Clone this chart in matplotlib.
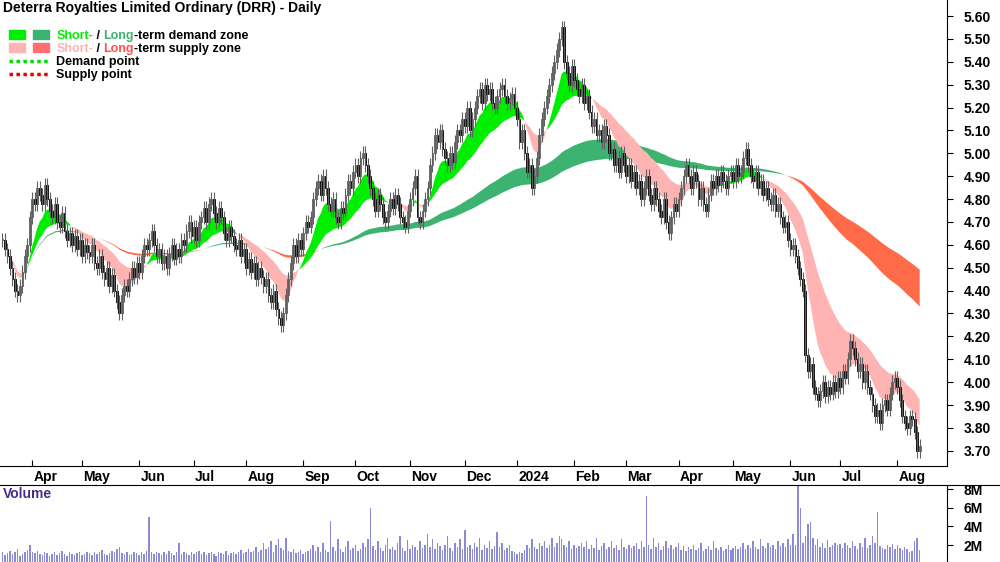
import numpy as np
import pandas as pd
import matplotlib
matplotlib.use("Agg")
import matplotlib.pyplot as plt
from matplotlib.patches import Patch
from matplotlib.lines import Line2D
from matplotlib.legend_handler import HandlerTuple

plt.rcParams['font.family'] = ['Liberation Sans', 'DejaVu Sans']

# daily closes, month by month (Mar 2023 .. Aug 2024)
closes = [
    4.62, 4.58, 4.55, 4.50, 4.45, 4.40, 4.38, 4.42, 4.48, 4.55, 4.60, 4.72, 4.80, 4.78, 4.85,
    4.82, 4.78, 4.86, 4.80, 4.75, 4.72, 4.78, 4.70, 4.68, 4.74, 4.66, 4.62, 4.65, 4.60, 4.64, 4.58, 4.62, 4.55, 4.60, 4.57,
    4.55, 4.60, 4.52, 4.50, 4.55, 4.48, 4.45, 4.50, 4.42, 4.47, 4.40, 4.35, 4.30, 4.38, 4.42, 4.40, 4.45, 4.50, 4.46, 4.52, 4.48, 4.55, 4.60,
    4.58, 4.62, 4.66, 4.60, 4.55, 4.58, 4.52, 4.55, 4.50, 4.56, 4.60, 4.54, 4.58, 4.55, 4.62, 4.60, 4.66, 4.70, 4.64, 4.68, 4.62, 4.70,
    4.72, 4.76, 4.70, 4.78, 4.80, 4.74, 4.70, 4.76, 4.72, 4.65, 4.62, 4.68, 4.64, 4.60, 4.58, 4.62, 4.55, 4.58, 4.50, 4.54, 4.48,
    4.52, 4.45, 4.50, 4.46, 4.42, 4.45, 4.38, 4.35, 4.40, 4.32, 4.28, 4.25, 4.30, 4.38, 4.45, 4.52, 4.60, 4.55, 4.62, 4.58, 4.65, 4.70, 4.68,
    4.72, 4.80, 4.85, 4.88, 4.82, 4.90, 4.85, 4.78, 4.75, 4.80, 4.72, 4.70, 4.76, 4.74, 4.82, 4.88, 4.85, 4.92, 4.95, 4.90, 4.98,
    5.00, 4.95, 4.90, 4.85, 4.80, 4.75, 4.82, 4.78, 4.72, 4.70, 4.75, 4.80, 4.76, 4.82, 4.78, 4.72, 4.70, 4.68, 4.75, 4.80, 4.85, 4.90,
    4.72, 4.70, 4.75, 4.80, 4.85, 4.95, 5.00, 5.08, 5.05, 5.10, 5.02, 4.98, 4.95, 5.00, 4.96, 5.05, 5.10, 5.08, 5.15, 5.12, 5.20, 5.10,
    5.15, 5.20, 5.25, 5.28, 5.22, 5.30, 5.26, 5.28, 5.22, 5.20, 5.25, 5.28, 5.30, 5.25, 5.22, 5.24, 5.26, 5.20, 5.15, 5.05, 5.10,
    5.00, 4.92, 4.95, 4.85, 4.90, 4.98, 5.08, 5.15, 5.20, 5.25, 5.30, 5.35, 5.40, 5.45, 5.50, 5.55, 5.40, 5.35, 5.30, 5.38, 5.32, 5.28, 5.25,
    5.30, 5.22, 5.25, 5.18, 5.12, 5.15, 5.08, 5.10, 5.05, 5.12, 5.08, 5.00, 5.02, 4.95, 4.98, 4.92, 5.00, 4.95, 4.90, 4.95, 4.88,
    4.92, 4.85, 4.88, 4.80, 4.85, 4.90, 4.82, 4.78, 4.85, 4.80, 4.75, 4.72, 4.80, 4.70, 4.65, 4.72, 4.78, 4.75, 4.80, 4.85, 4.90,
    4.95, 4.90, 4.85, 4.92, 4.88, 4.80, 4.85, 4.78, 4.75, 4.82, 4.88, 4.85, 4.90, 4.86, 4.92, 4.88, 4.85, 4.90, 4.92, 4.88, 4.95, 4.90,
    4.92, 4.98, 5.02, 4.95, 4.90, 4.88, 4.92, 4.85, 4.88, 4.82, 4.85, 4.80, 4.78, 4.82, 4.75, 4.78, 4.72, 4.68, 4.70, 4.62, 4.58, 4.60, 4.55,
    4.50, 4.45, 4.40, 4.12, 4.05, 4.08, 3.98, 3.95, 3.92, 3.96, 4.00, 3.94, 3.98, 3.95, 4.00, 3.96, 4.02, 3.98, 4.05, 4.02,
    4.10, 4.18, 4.15, 4.10, 4.05, 4.08, 4.00, 4.05, 3.98, 3.95, 3.90, 3.85, 3.88, 3.82, 3.90, 3.92, 3.88, 3.95, 4.00, 4.02, 3.98, 3.92, 3.85,
    3.82, 3.80, 3.85, 3.84, 3.78, 3.70, 3.72,
]

# daily volume in millions
volume = [
    1.2, 0.9, 1.1, 1.4, 1.0, 1.3, 1.6, 0.8, 1.0, 1.2, 1.5, 2.0, 1.3, 1.1, 1.4,
    1.0, 0.9, 1.2, 1.1, 0.8, 1.0, 1.3, 0.9, 1.1, 1.4, 1.0, 0.8, 1.2, 1.0, 0.9, 1.1, 1.3, 0.9, 1.0, 1.2,
    1.1, 0.9, 1.3, 1.0, 1.2, 1.5, 1.0, 0.9, 1.1, 1.4, 1.2, 1.6, 1.8, 1.1, 1.0, 1.2, 0.9, 1.0, 1.3, 1.1, 0.9, 1.2, 1.0,
    1.4, 5.0, 1.2, 1.0, 1.3, 1.1, 0.9, 1.2, 1.0, 1.4, 1.1, 0.9, 1.3, 2.2, 1.0, 1.2, 1.1, 0.9, 1.3, 1.0, 1.2, 1.4,
    1.0, 1.2, 0.9, 1.1, 1.3, 1.0, 0.8, 1.2, 1.1, 1.0, 1.4, 0.9, 1.1, 1.3, 1.0, 1.2, 1.5, 1.1, 1.3, 1.6, 1.2,
    1.4, 1.8, 1.2, 1.5, 2.2, 1.6, 1.8, 2.4, 1.3, 2.0, 2.6, 1.7, 1.5, 2.8, 1.4, 1.2, 1.6, 1.1, 1.3, 1.5, 1.0, 1.2, 1.4,
    1.6, 2.0, 1.4, 1.8, 1.2, 2.2, 1.5, 1.3, 4.6, 1.8, 1.4, 2.6, 1.6, 1.2, 1.8, 2.4, 1.5, 1.7, 2.0, 1.4, 1.6,
    2.2, 1.8, 2.6, 6.0, 1.9, 1.5, 2.4, 1.7, 1.4, 2.0, 2.8, 1.6, 1.8, 1.5, 2.2, 3.0, 1.7, 1.4, 2.5, 1.6, 2.0, 1.8,
    1.5, 2.4, 1.7, 2.0, 3.2, 1.8, 2.6, 1.6, 2.2, 1.9, 1.5, 2.0, 3.0, 1.7, 1.4, 2.2, 1.8, 2.6, 1.6, 3.6, 1.8, 2.0,
    1.6, 2.2, 1.8, 2.8, 1.5, 2.0, 1.7, 2.4, 1.6, 1.9, 3.4, 1.8, 2.2, 1.5, 1.7, 2.0, 1.4, 1.2, 1.0, 1.3, 1.1,
    1.5, 2.0, 1.7, 2.6, 1.8, 1.6, 2.2, 1.9, 2.4, 1.7, 2.0, 2.8, 1.8, 2.2, 3.0, 2.6, 2.0, 1.8, 2.4, 1.6, 2.0, 1.7, 1.9,
    2.2, 1.8, 2.4, 1.6, 2.0, 1.7, 2.8, 1.5, 1.9, 2.2, 1.6, 1.8, 2.4, 1.7, 2.0, 1.5, 2.6, 1.8, 1.6, 2.0, 1.7,
    1.9, 2.2, 1.6, 2.4, 1.8, 7.2, 2.0, 1.6, 2.8, 1.8, 2.2, 1.5, 1.9, 2.4, 1.7, 2.0, 1.6, 1.8, 2.2, 1.5, 1.9,
    1.4, 1.8, 1.6, 2.0, 1.5, 1.7, 2.2, 1.4, 1.6, 1.9, 1.5, 2.4, 1.7, 1.5, 1.8, 1.4, 1.6, 2.0, 1.5, 1.7, 1.9, 1.6,
    1.8, 2.2, 1.6, 2.0, 1.7, 2.4, 1.8, 1.6, 2.6, 1.9, 1.7, 2.2, 1.8, 2.0, 1.6, 2.4, 1.9, 2.2, 1.8, 2.6, 2.0, 3.2, 2.0,
    8.5, 6.0, 2.2, 3.0, 4.2, 4.5, 2.8, 2.0, 2.6, 1.8, 2.2, 1.7, 2.5, 1.8, 2.0, 2.2, 2.0, 2.1, 1.7, 2.2,
    2.0, 1.7, 2.4, 1.9, 1.6, 2.2, 1.8, 2.8, 1.7, 2.0, 3.0, 2.2, 5.5, 1.9, 1.7, 1.6, 2.0, 1.8, 2.1, 1.6, 2.0, 1.7, 1.5,
    1.8, 1.6, 1.3, 1.4, 2.4, 2.7, 1.5,
]

month_labels = ['Apr', 'May', 'Jun', 'Jul', 'Aug', 'Sep', 'Oct', 'Nov', 'Dec', '2024',
                'Feb', 'Mar', 'Apr', 'May', 'Jun', 'Jul', 'Aug']
price_ticks = [3.70, 3.80, 3.90, 4.00, 4.10, 4.20, 4.30, 4.40, 4.50, 4.60, 4.70,
               4.80, 4.90, 5.00, 5.10, 5.20, 5.30, 5.40, 5.50, 5.60]
vol_ticks = [2, 4, 6, 8]

n = min(len(closes), len(volume))
closes = np.array(closes[:n])
volume = np.array(volume[:n])
dates = pd.bdate_range('2023-03-16', periods=n)
idx = np.arange(n)
opens = np.r_[closes[0], closes[:-1]]

# zones from exponential averages
s = pd.Series(closes)
st_fast = s.ewm(span=10).mean().values
st_slow = s.ewm(span=30).mean().values
lt_fast = s.ewm(span=110).mean().values
lt_slow = s.ewm(span=180).mean().values

fig = plt.figure(figsize=(10, 5.62), dpi=100)
ax = fig.add_axes([0.0, 0.171, 0.947, 0.829])
axv = fig.add_axes([0.0, 0.0, 0.947, 0.137], sharex=ax)

C_ST_D, C_LT_D = '#00ee00', '#3cb371'
C_ST_S, C_LT_S = '#ffb3b3', '#ff6a48'

up = lt_fast >= lt_slow
ax.fill_between(idx, lt_fast, lt_slow, where=up, color=C_LT_D, lw=0, interpolate=True)
ax.fill_between(idx, lt_fast, lt_slow, where=~up, color=C_LT_S, lw=0, interpolate=True)
up = st_fast >= st_slow
ax.fill_between(idx, st_fast, st_slow, where=up, color=C_ST_D, lw=0, interpolate=True)
ax.fill_between(idx, st_fast, st_slow, where=~up, color=C_ST_S, lw=0, interpolate=True)

# candles
tops = np.maximum(opens, closes)
bots = np.minimum(opens, closes)
ax.vlines(idx, bots - 0.03, tops + 0.03, color='#606060', lw=0.8)
rising = closes >= opens
body = np.maximum(tops - bots, 0.004)
ax.bar(idx[rising], body[rising], bottom=bots[rising], width=0.7,
       color='white', edgecolor='#555555', lw=0.6)
ax.bar(idx[~rising], body[~rising], bottom=bots[~rising], width=0.7,
       color='black', edgecolor='black', lw=0.6)

ax.set_xlim(-1, 380)
ax.set_ylim(3.634, 5.670)
ax.yaxis.tick_right()
ax.set_yticks(price_ticks)
ax.set_yticklabels([f'{v:.2f}' for v in price_ticks], fontsize=10, fontweight='bold')
ax.tick_params(axis='y', direction='out', length=4, pad=8)

# month ticks
month_start = [i for i in range(1, n) if dates[i].month != dates[i - 1].month]
ax.set_xticks(month_start)
ax.tick_params(axis='x', direction='in', length=4, labelbottom=False)
for pos, lab in zip(month_start, month_labels):
    ax.text(pos + 0.5, -0.008, lab, transform=ax.get_xaxis_transform(),
            ha='left', va='top', fontsize=10, fontweight='bold')
for sp in ['top', 'left']:
    ax.spines[sp].set_visible(False)

ax.text(0.003, 0.998, 'Deterra Royalties Limited Ordinary (DRR) - Daily',
        transform=ax.transAxes, ha='left', va='top', fontsize=10, fontweight='bold')

handles = [
    (Patch(color=C_ST_D), Patch(color=C_LT_D)),
    (Patch(color=C_ST_S), Patch(color='#ff7070')),
    Line2D([], [], color='#00dd00', ls=(0, (1, 1)), lw=2.5),
    Line2D([], [], color='#ee0000', ls=(0, (1, 1)), lw=2.5),
]
leg = ax.legend(handles, ['Short- / Long-term demand zone', 'Short- / Long-term supply zone',
                          'Demand point', 'Supply point'],
                handler_map={tuple: HandlerTuple(ndivide=None, pad=0.6)},
                loc='upper left', bbox_to_anchor=(0.0, 0.955), frameon=False,
                prop={'weight': 'bold', 'size': 9}, handlelength=3.2,
                labelspacing=0.1, handletextpad=0.6, borderaxespad=0.3)
# coloured legend words
parts_list = [
    [('Short-', C_ST_D), (' / ', 'black'), ('Long', '#3cb371'), ('-term demand zone', 'black')],
    [('Short-', '#ffb3b3'), (' / ', 'black'), ('Long', '#ff5050'), ('-term supply zone', 'black')],
]
fig.canvas.draw()
r = fig.canvas.get_renderer()
for t, parts in zip(leg.get_texts()[:2], parts_list):
    bb = t.get_window_extent(r)
    t.set_text('')
    x0, y0 = bb.x0, bb.y0
    for word, col in parts:
        tt = fig.text(x0 / fig.bbox.width, y0 / fig.bbox.height, word, color=col,
                      fontsize=9, fontweight='bold', ha='left', va='bottom')
        x0 = tt.get_window_extent(r).x1

# volume
axv.bar(idx, volume, width=0.6, color='#8a8ad6')
axv.set_ylim(0.18, 8.43)
axv.yaxis.tick_right()
axv.set_yticks(vol_ticks)
axv.set_yticklabels([f'{v}M' for v in vol_ticks], fontsize=10, fontweight='bold')
axv.tick_params(axis='y', direction='out', length=4, pad=8)
axv.tick_params(axis='x', bottom=False, labelbottom=False)
for sp in ['left', 'bottom', 'top']:
    axv.spines[sp].set_visible(False)
fig.add_artist(Line2D([0, 1], [0.137, 0.137], color='black', lw=0.8))
axv.text(0.003, 0.97, 'Volume', transform=axv.transAxes, ha='left', va='top',
         fontsize=10, fontweight='bold', color='#4b2a8a')

fig.savefig('out.png', dpi=100)
